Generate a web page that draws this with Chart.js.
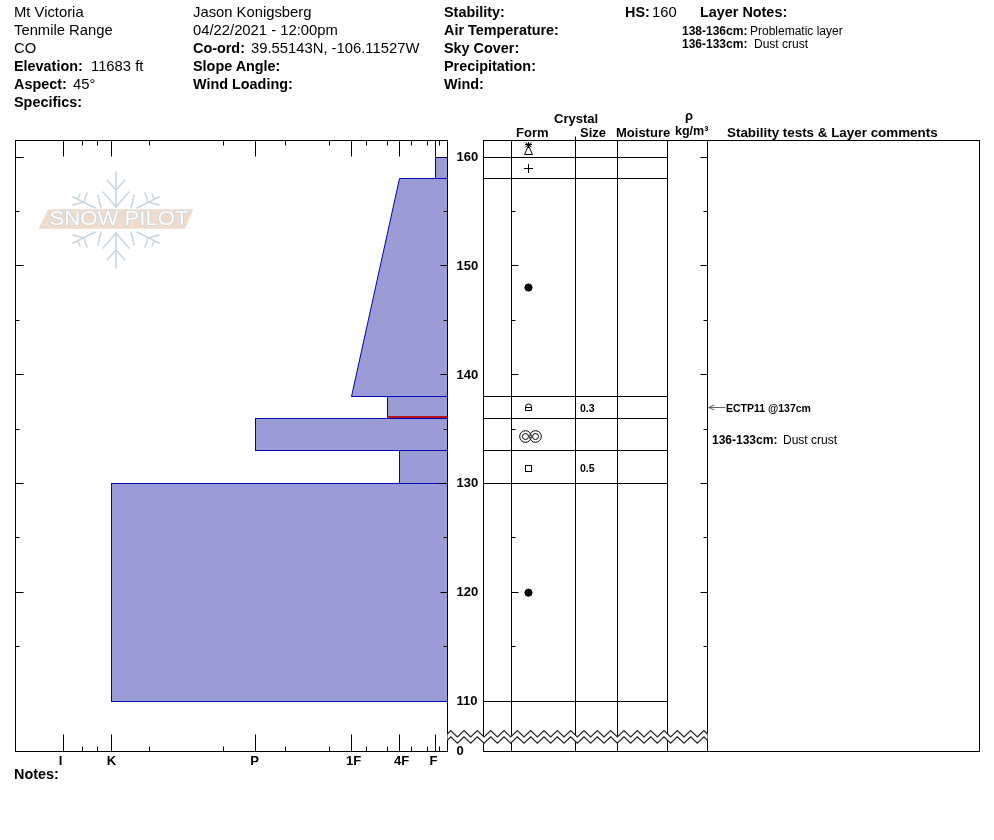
<!DOCTYPE html>
<html><head><meta charset="utf-8"><title>Snow profile</title>
<script src="https://cdn.jsdelivr.net/npm/chart.js@4"></script>
<style>
html,body{margin:0;padding:0;background:#fff;overflow:hidden}
#wrap{position:relative;width:994px;height:840px;font-family:"Liberation Sans",Arial,sans-serif;color:#000}
canvas{position:absolute;left:0;top:0}
.t{position:absolute;line-height:1;white-space:nowrap;transform:translateY(-50%);z-index:5}
</style></head><body>
<div id="wrap"><canvas id="profile" width="994" height="840"></canvas><canvas id="table" width="994" height="840"></canvas></div>
<script>
// ---------- data ----------
const hardnessLabels = ['I', 'K', 'P', '1F', '4F', 'F'];
const hardnessLabelAt = [387, 336, 193, 94, 46, 14];
const hardnessMajor = [384, 336, 192, 96, 48, 12];
const hardnessMinor = [365, 350, 298, 224, 162, 118, 81, 60, 36, 20, 8];
const depthFloor = 105.404;
const depthCeil = 161.5625;
const depthLabelled = [110, 120, 130, 140, 150, 160];
const depthMajorTicks = [120, 130, 140, 150, 160];
const depthMinorTicks = [115, 125, 135, 145, 155];
const layerTop = [160, 158, 138, 136, 133, 130];
const layerBottom = [158, 138, 136, 133, 130, 110];
const layerHardTop = [12, 48, 60, 192, 48, 336];
const layerHardBottom = [12, 96, 60, 192, 48, 336];
const problemDepth = 136.15;
const problemHard = 60;
const rowBoundaries = [160, 158, 138, 136, 133, 130, 110];
const columnEdges = [0, 28, 92, 134, 184, 224, 496];
const dotDepths = [148.05, 120];
const plusDepths = [159];
const squareDepths = [131.4];
const lockDepths = [137];
const ringsDepths = [134.3];
const starTriangleDepths = [160.8];
const crystalSizes = ['0.3', '0.5'];
const crystalSizeDepths = [137, 131.5];
const testDepth = 137;

// ---------- text ----------
const R = 14.8, B = 14.4, S = 12;
const headerText = [
 [14,12,'Mt Victoria',0,R],[14,30,'Tenmile Range',0,R],[14,48,'CO',0,R],
 [14,66,'Elevation:',1,B],[91,66,'11683 ft',0,R],[14,84,'Aspect:',1,B],[73,84,'45°',0,R],[14,102,'Specifics:',1,B],
 [193,12,'Jason Konigsberg',0,R],[193,30,'04/22/2021 - 12:00pm',0,R],[193,48,'Co-ord:',1,B],[251,48,'39.55143N, -106.11527W',0,R],
 [193,66,'Slope Angle:',1,B],[193,84,'Wind Loading:',1,B],
 [444,12,'Stability:',1,B],[444,30,'Air Temperature:',1,B],[444,48,'Sky Cover:',1,B],[444,66,'Precipitation:',1,B],[444,84,'Wind:',1,B],
 [625,12,'HS:',1,B],[652,12,'160',0,R],[700,12,'Layer Notes:',1,B],
 [682,31,'138-136cm:',1,S],[750,31,'Problematic layer',0,S],[682,44,'136-133cm:',1,S],[754,44,'Dust crust',0,S],
 [554,118,'Crystal',1,13],[516,132,'Form',1,13],[580,132,'Size',1,13],[616,132,'Moisture',1,13],
 [685,115,'ρ',1,13],[675,131,'kg/m³',1,12.5],[727,132.5,'Stability tests & Layer comments',1,13.4],
 [14,774,'Notes:',1,B],
 [726,408,'ECTP11 @137cm',1,10.5],[712,440,'136-133cm:',1,S],[783,440,'Dust crust',0,S]
];
const wrap = document.getElementById('wrap');
function addText(x, y, s, bold, size) {
  const d = document.createElement('div');
  d.className = 't'; d.textContent = s;
  d.style.left = x + 'px'; d.style.top = y + 'px';
  d.style.fontSize = size + 'px'; d.style.fontWeight = bold ? 'bold' : 'normal';
  wrap.appendChild(d);
}
headerText.forEach(a => addText.apply(null, a));

// ---------- helpers ----------
const snap = p => Math.floor(p - 0.3) + 0.5;
const BLACK = '#000';
const labelFont = {family: '"Liberation Sans", Arial, sans-serif', size: 13, weight: 'bold'};
const snapPoints = {
  id: 'snapPoints',
  afterDatasetsUpdate(chart) {
    chart.data.datasets.forEach((ds, i) => {
      if (ds.noSnap) return;
      chart.getDatasetMeta(i).data.forEach(p => { p.y = snap(p.y); });
    });
  }
};
function hLine(ctx, x1, x2, y) { ctx.beginPath(); ctx.moveTo(x1, y); ctx.lineTo(x2, y); ctx.stroke(); }
function vLine(ctx, x, y1, y2) { ctx.beginPath(); ctx.moveTo(x, y1); ctx.lineTo(x, y2); ctx.stroke(); }

function drawLogo(ctx) {
  ctx.save();
  ctx.translate(116, 220);
  ctx.strokeStyle = '#c8d5dd'; ctx.lineWidth = 1.5; ctx.lineCap = 'round';
  const seg = (a, b, c, d) => { ctx.beginPath(); ctx.moveTo(a, b); ctx.lineTo(c, d); ctx.stroke(); };
  [-1, 1].forEach(sy => {
    seg(0, sy * 13, 0, sy * 48);
    [-1, 1].forEach(sx => {
      seg(0, sy * 13, sx * 13, sy * 28);
      seg(0, sy * 30, sx * 9, sy * 40);
      seg(sx * 21, sy * 12, sx * 43, sy * 23);
      seg(sx * 32, sy * 18, sx * 29, sy * 27);
      seg(sx * 32, sy * 18, sx * 43, sy * 15);
      seg(sx * 38, sy * 21, sx * 36, sy * 26);
      seg(sx * 18, sy * 25, sx * 15, sy * 12);
    });
  });
  ctx.restore();
  ctx.save();
  ctx.fillStyle = '#f1dccb';
  ctx.beginPath(); ctx.moveTo(48.3, 209.3); ctx.lineTo(193.3, 209.3); ctx.lineTo(185, 228.7); ctx.lineTo(38.3, 228.7); ctx.closePath(); ctx.fill();
  ctx.font = '19.5px "Liberation Sans", Arial, sans-serif';
  ctx.textBaseline = 'middle';
  ctx.translate(49.5, 220);
  const w = ctx.measureText('SNOW PILOT').width;
  ctx.scale(139 / w, 1);
  ctx.lineWidth = 1.6; ctx.strokeStyle = '#ccd4d7';
  ctx.strokeText('SNOW PILOT', 0, 0);
  ctx.fillStyle = '#fff';
  ctx.fillText('SNOW PILOT', 0, 0);
  ctx.restore();
}

// ---------- profile (hardness) chart ----------
const layerSets = layerTop.map((t, i) => ({
  data: [{x: 0, y: t}, {x: layerHardTop[i], y: t}, {x: layerHardBottom[i], y: layerBottom[i]}, {x: 0, y: layerBottom[i]}, {x: 0, y: t}],
  showLine: true, fill: 'shape', backgroundColor: '#9b9bd6', borderColor: '#0000b8', borderWidth: 1,
  pointRadius: 0, tension: 0, order: 2
}));
layerSets.push({
  data: [{x: 0, y: problemDepth}, {x: problemHard, y: problemDepth}],
  showLine: true, borderColor: '#b01818', borderWidth: 2, pointRadius: 0, order: 1, noSnap: true
});
const profileFrame = {
  id: 'profileFrame',
  beforeDatasetsDraw(chart) { drawLogo(chart.ctx); },
  afterDraw(chart) {
    const {ctx, chartArea: a, scales: {x, y}} = chart;
    ctx.save(); ctx.strokeStyle = BLACK; ctx.lineWidth = 1;
    ctx.strokeRect(a.left, a.top, a.right - a.left, a.bottom - a.top);
    hardnessMajor.forEach(v => { const p = x.getPixelForValue(v); vLine(ctx, p, a.top, a.top + 16); vLine(ctx, p, a.bottom, a.bottom - 17); });
    hardnessMinor.forEach(v => { const p = x.getPixelForValue(v); vLine(ctx, p, a.top, a.top + 5); vLine(ctx, p, a.bottom, a.bottom - 5); });
    depthMajorTicks.forEach(v => { const p = snap(y.getPixelForValue(v)); hLine(ctx, a.left, a.left + 8, p); hLine(ctx, a.right, a.right - 7, p); });
    depthMinorTicks.forEach(v => { const p = snap(y.getPixelForValue(v)); hLine(ctx, a.left, a.left + 4, p); hLine(ctx, a.right, a.right - 4, p); });
    ctx.restore();
  }
};
new Chart(document.getElementById('profile'), {
  type: 'scatter',
  data: {datasets: layerSets},
  plugins: [snapPoints, profileFrame],
  options: {
    responsive: false, animation: false, devicePixelRatio: 1,
    layout: {padding: {left: 15.5, top: 140.5, right: 0, bottom: 0}},
    plugins: {legend: {display: false}, tooltip: {enabled: false}},
    scales: {
      x: {
        type: 'linear', reverse: true, min: 0, max: 432, position: 'bottom',
        grid: {display: false, drawTicks: false}, border: {display: false},
        afterBuildTicks: s => { s.ticks = hardnessLabelAt.map(v => ({value: v})); },
        afterFit: s => { s.height = 840 - 751.5; },
        ticks: {
          autoSkip: false, maxRotation: 0, minRotation: 0, padding: 2, color: BLACK, font: labelFont,
          callback: v => hardnessLabels[hardnessLabelAt.indexOf(v)]
        }
      },
      y: {
        type: 'linear', min: depthFloor, max: depthCeil, position: 'right',
        grid: {display: false, drawTicks: false}, border: {display: false},
        afterBuildTicks: s => { s.ticks = [depthFloor].concat(depthLabelled).map(v => ({value: v})); },
        afterFit: s => { s.width = 994 - 447.5; },
        ticks: {
          autoSkip: false, padding: 9, color: BLACK, font: labelFont,
          callback: v => (v === depthFloor ? '0' : String(v))
        }
      }
    }
  }
});

// ---------- table chart ----------
function glyph(w, h, draw) {
  const c = document.createElement('canvas'); c.width = w; c.height = h;
  const g = c.getContext('2d'); g.strokeStyle = BLACK; g.lineWidth = 1; draw(g); return c;
}
const squareGlyph = glyph(9, 9, g => { g.strokeRect(1.5, 1.5, 6, 6); });
const lockGlyph = glyph(9, 9, g => {
  g.beginPath(); g.moveTo(1.5, 4.5); g.arcTo(1.5, 1, 4.5, 1, 3); g.arcTo(7.5, 1, 7.5, 4.5, 3);
  g.lineTo(7.5, 7.5); g.lineTo(1.5, 7.5); g.closePath(); g.stroke();
  hLine(g, 1, 8, 4.5);
});
const ringsGlyph = glyph(23, 13, g => {
  [6.5, 16.5].forEach(cx => { [5.8, 3].forEach(r => { g.beginPath(); g.arc(cx, 6.5, r, 0, 2 * Math.PI); g.stroke(); }); });
});
const starTriangleGlyph = glyph(11, 13, g => {
  vLine(g, 5.5, 0, 6); hLine(g, 2, 9, 2.5);
  g.beginPath(); g.moveTo(2.5, 0.5); g.lineTo(8.5, 5); g.moveTo(8.5, 0.5); g.lineTo(2.5, 5); g.stroke();
  g.beginPath(); g.moveTo(5.5, 3.5); g.lineTo(9.5, 12.5); g.lineTo(1.5, 12.5); g.closePath(); g.stroke();
});
const FORM_X = 45;
const symbolSet = (depths, style, radius, snapIt) => ({
  data: depths.map(d => ({x: FORM_X, y: d})), pointStyle: style, pointRadius: radius,
  pointBackgroundColor: BLACK, pointBorderColor: BLACK, pointBorderWidth: 1, showLine: false, noSnap: !snapIt
});
const tableSets = rowBoundaries.map(d => ({
  data: [{x: columnEdges[0], y: d}, {x: columnEdges[4], y: d}],
  showLine: true, borderColor: BLACK, borderWidth: 1, pointRadius: 0
}));
tableSets.push(symbolSet(dotDepths, 'circle', 3.6));
tableSets.push(symbolSet(plusDepths, 'cross', 4.6, true));
tableSets.push(symbolSet(squareDepths, squareGlyph, 5, true));
tableSets.push(symbolSet(lockDepths, lockGlyph, 5, true));
tableSets.push(Object.assign(symbolSet(ringsDepths, ringsGlyph, 7, true), {data: ringsDepths.map(d => ({x: FORM_X + 2, y: d}))}));
tableSets.push(symbolSet(starTriangleDepths, starTriangleGlyph, 7, true));

const BREAK_TOP = 107.33;
const BREAK_STEP = 6.665;
const tableFrame = {
  id: 'tableFrame',
  afterDraw(chart) {
    const {ctx, chartArea: a, scales: {x, y}} = chart;
    ctx.save(); ctx.strokeStyle = BLACK; ctx.lineWidth = 1;
    ctx.strokeRect(a.left, a.top, a.right - a.left, a.bottom - a.top);
    const form = x.getPixelForValue(columnEdges[1]), rho = x.getPixelForValue(columnEdges[5]);
    depthMajorTicks.forEach(v => { const p = snap(y.getPixelForValue(v)); hLine(ctx, form, form + 7, p); hLine(ctx, rho, rho - 7, p); });
    depthMinorTicks.forEach(v => { const p = snap(y.getPixelForValue(v)); hLine(ctx, form, form + 4, p); hLine(ctx, rho, rho - 4, p); });
    vLine(ctx, x.getPixelForValue(columnEdges[2]), a.top - 4, a.top);
    // stability test arrow
    const ty = snap(y.getPixelForValue(testDepth));
    ctx.strokeStyle = '#666';
    hLine(ctx, rho + 1, rho + 18, ty);
    ctx.beginPath(); ctx.moveTo(rho + 7, ty - 2.5); ctx.lineTo(rho + 1, ty); ctx.lineTo(rho + 7, ty + 2.5); ctx.stroke();
    // axis break
    const y0 = y.getPixelForValue(BREAK_TOP), amp = 6.3, gap = 6.3;
    const x0 = x.getPixelForValue(-36), x1 = rho;
    const pts = [];
    pts.push([x0, y0 + amp * 0.55]);
    for (let i = 0, px = x0 + 3.2; px < x1; i++, px += BREAK_STEP) pts.push([px, i % 2 ? y0 + amp : y0]);
    pts.push([x1, y0 + amp * 0.55]);
    ctx.beginPath();
    pts.forEach((p, i) => (i ? ctx.lineTo(p[0], p[1]) : ctx.moveTo(p[0], p[1])));
    pts.slice().reverse().forEach(p => ctx.lineTo(p[0], p[1] + gap));
    ctx.closePath(); ctx.fillStyle = '#fff'; ctx.fill();
    ctx.strokeStyle = '#222'; ctx.lineWidth = 1.2;
    [0, gap].forEach(off => {
      ctx.beginPath();
      pts.forEach((p, i) => (i ? ctx.lineTo(p[0], p[1] + off) : ctx.moveTo(p[0], p[1] + off)));
      ctx.stroke();
    });
    ctx.restore();
  }
};
const tableChart = new Chart(document.getElementById('table'), {
  type: 'scatter',
  data: {datasets: tableSets},
  plugins: [snapPoints, tableFrame],
  options: {
    responsive: false, animation: false, devicePixelRatio: 1,
    layout: {padding: {left: 483.5, top: 140.5, right: 14.5, bottom: 88.5}},
    plugins: {legend: {display: false}, tooltip: {enabled: false}},
    scales: {
      x: {
        type: 'linear', min: 0, max: 496,
        afterBuildTicks: s => { s.ticks = columnEdges.map(v => ({value: v})); },
        afterFit: s => { s.height = 0; },
        grid: {color: BLACK, lineWidth: 1, drawTicks: false}, border: {display: false},
        ticks: {display: false}
      },
      y: {type: 'linear', min: depthFloor, max: depthCeil, display: false}
    }
  }
});
crystalSizes.forEach((s, i) => {
  addText(580, tableChart.scales.y.getPixelForValue(crystalSizeDepths[i]), s, 1, 10.5);
});
</script>
</body></html>
